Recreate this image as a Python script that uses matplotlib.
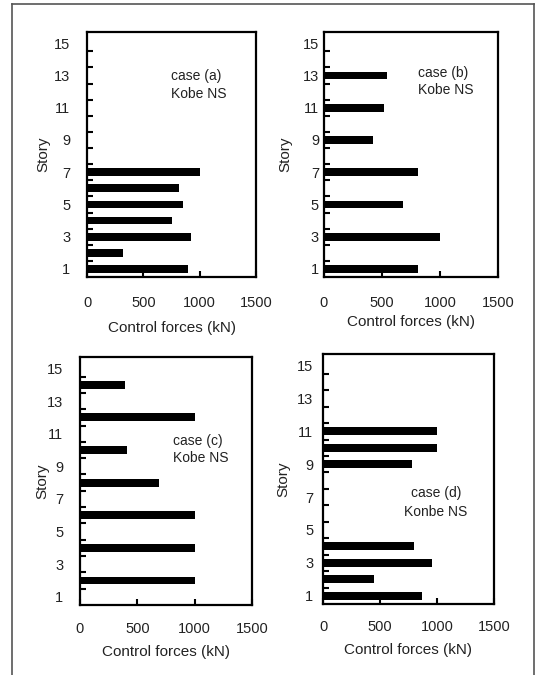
import matplotlib
matplotlib.use('Agg')
import matplotlib.pyplot as plt
from matplotlib.lines import Line2D
from matplotlib.ticker import FixedLocator

plt.rcParams['font.family'] = ['Liberation Sans', 'DejaVu Sans']

# 데이터 (층, 제어력 kN)
a_story = [1, 2, 3, 4, 5, 6, 7]
a_force = [900, 320, 920, 750, 850, 820, 1000]

b_story = [1, 3, 5, 7, 9, 11, 13]
b_force = [810, 1000, 680, 810, 420, 520, 540]

c_story = [2, 4, 6, 8, 10, 12, 14]
c_force = [1000, 1000, 1000, 690, 410, 1000, 390]

d_story = [1, 2, 3, 4, 9, 10, 11]
d_force = [870, 450, 960, 800, 780, 1000, 1000]

case_names = ['case (a)', 'case (b)', 'case (c)', 'case (d)']
record_names = ['Kobe NS', 'Kobe NS', 'Kobe NS', 'Konbe NS']
x_ticks = [0, 500, 1000, 1500]
y_ticks = [1, 3, 5, 7, 9, 11, 13, 15]

W, H = 538, 675
fig = plt.figure(figsize=(W / 100, H / 100), dpi=100)

# 축 위치 (픽셀: 왼쪽, 오른쪽, 위, 아래)
boxes = [(87, 256, 32, 277), (324, 498, 32, 277),
         (80, 252, 357, 605), (323, 494, 354, 604)]
ypads = [12, 3.6, 12, 7]
xpads = [14, 14, 12, 11.5]
ylab_x = [-0.219, -0.184, -0.18, -0.193]
xlab_y = [-0.18, -0.155, -0.161, -0.156]
text_pos = [(0.497, 0.82, 0.747, 'left'), (0.54, 0.833, 0.763, 'left'),
            (0.54, 0.661, 0.593, 'left'), (0.66, 0.444, 0.368, 'center')]

data = [(a_story, a_force), (b_story, b_force), (c_story, c_force), (d_story, d_force)]

for i, (st, fc) in enumerate(data):
    l, r, t, b = boxes[i]
    ax = fig.add_axes([l / W, 1 - b / H, (r - l) / W, (b - t) / H])
    ax.barh(st, fc, height=0.48, color='black')
    ax.set_xlim(0, 1500)
    ax.set_ylim(0.5, 15.7)
    ax.set_xticks(x_ticks)
    ax.set_yticks(y_ticks)
    ax.yaxis.set_minor_locator(FixedLocator([k + 0.5 for k in range(1, 15)]))
    ax.tick_params(axis='y', which='major', length=0, pad=ypads[i], labelsize=10.5,
                   labelcolor='#222222')
    ax.tick_params(axis='y', which='minor', direction='in', length=4.5, width=1.5)
    ax.tick_params(axis='x', which='major', direction='in', length=4, width=1.5,
                   pad=xpads[i], labelsize=10.5, labelcolor='#222222')
    for s in ax.spines.values():
        s.set_linewidth(1.6)
    ax.set_xlabel('Control forces (kN)', fontsize=11, color='#222222')
    ax.set_ylabel('Story', fontsize=11, color='#222222')
    ax.xaxis.set_label_coords(0.5, xlab_y[i])
    ax.yaxis.set_label_coords(ylab_x[i], 0.5)
    tx, ty1, ty2, ha = text_pos[i]
    ax.text(tx, ty1, case_names[i], transform=ax.transAxes, ha=ha, va='center',
            fontsize=10, color='#222222')
    ax.text(tx, ty2, record_names[i], transform=ax.transAxes, ha=ha, va='center',
            fontsize=10, color='#222222')

# 바깥 테두리
xl, xr, yt = 12 / W, 534 / W, 1 - 4 / H
for xs, ys in [([xl, xl], [0, yt]), ([xl, xr], [yt, yt]), ([xr, xr], [yt, 0])]:
    fig.add_artist(Line2D(xs, ys, color='#555555', lw=1.2, transform=fig.transFigure))

plt.savefig('out.png', dpi=100)
